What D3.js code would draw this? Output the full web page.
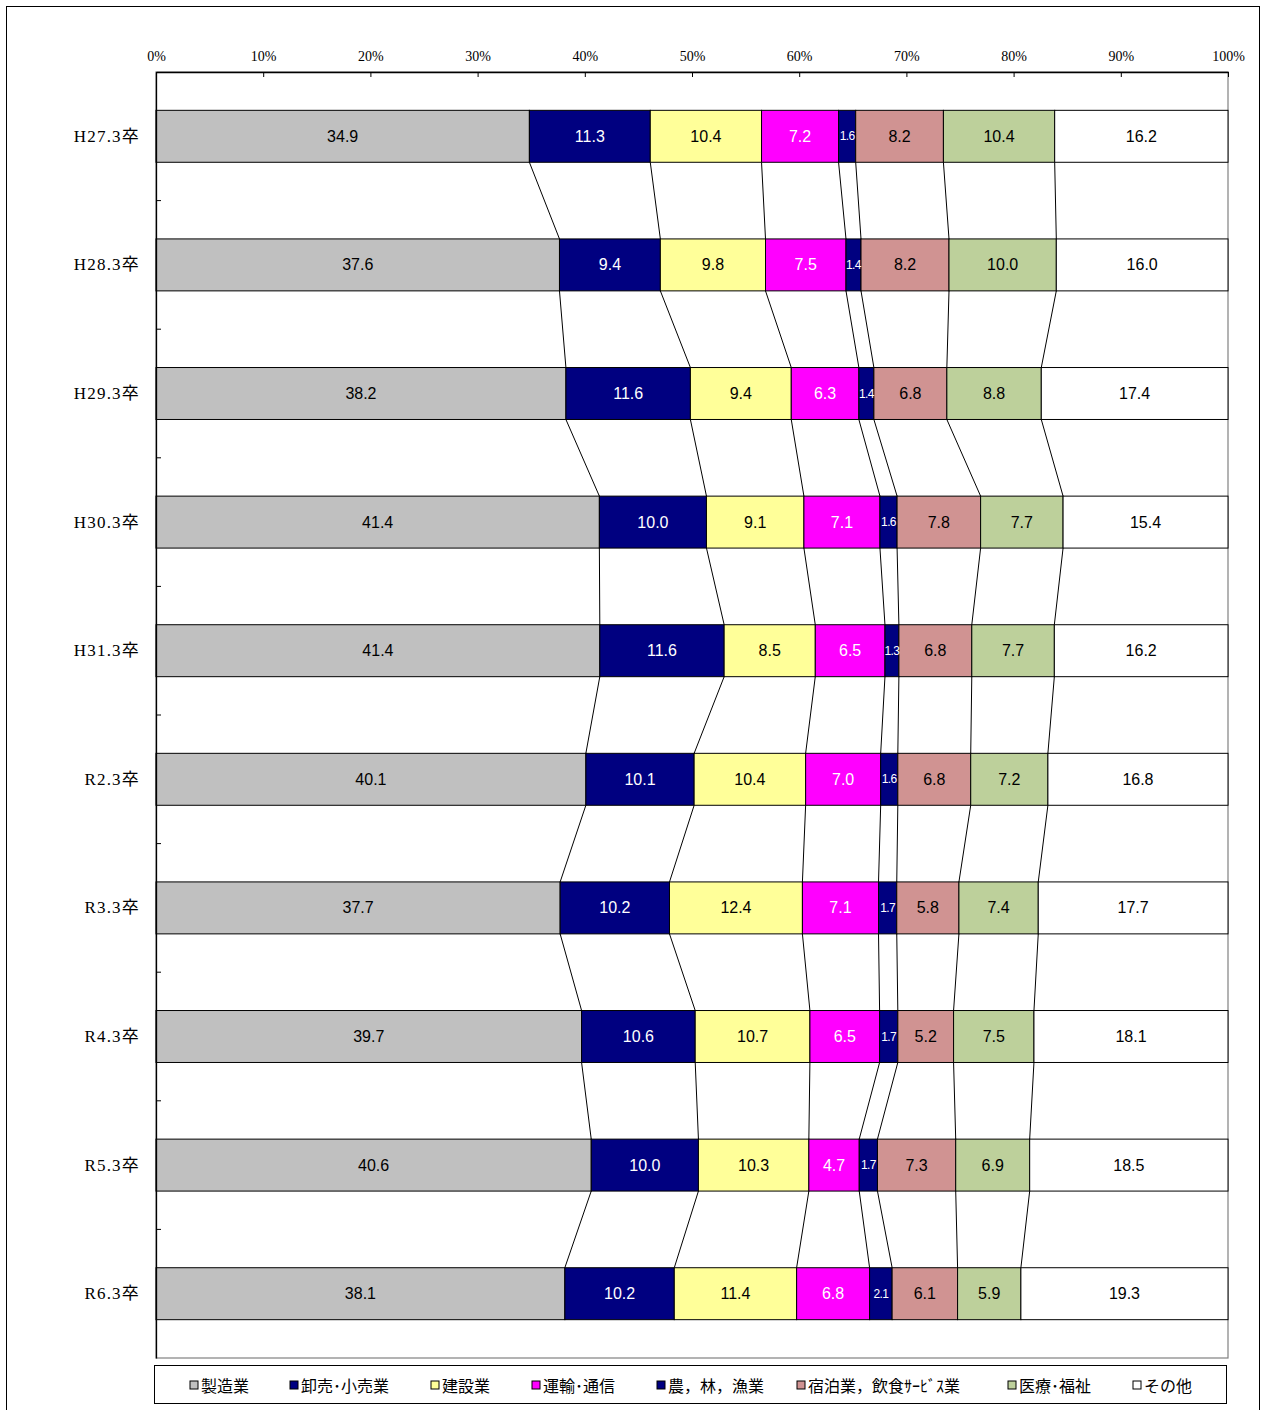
<!DOCTYPE html>
<html><head><meta charset="utf-8">
<script src="https://cdn.jsdelivr.net/npm/d3@7"></script>
<style>body{margin:0;background:#fff}</style>
</head><body><svg id="c" width="1262" height="1410"></svg>
<script>
const categories = ["H27.3卒","H28.3卒","H29.3卒","H30.3卒","H31.3卒","R2.3卒","R3.3卒","R4.3卒","R5.3卒","R6.3卒"];
const seriesNames = ["製造業","卸売･小売業","建設業","運輸･通信","農，林，漁業","宿泊業，飲食ｻｰﾋﾞｽ業","医療･福祉","その他"];
const seriesColors = ["#C0C0C0","#000080","#FFFF99","#FF00FF","#000080","#D09392","#BDD09B","#FFFFFF"];
const labelColors = ["#000","#fff","#000","#fff","#fff","#000","#000","#000"];
const s_manufacturing = [34.9,37.6,38.2,41.4,41.4,40.1,37.7,39.7,40.6,38.1];
const s_wholesale     = [11.3,9.4,11.6,10.0,11.6,10.1,10.2,10.6,10.0,10.2];
const s_construction  = [10.4,9.8,9.4,9.1,8.5,10.4,12.4,10.7,10.3,11.4];
const s_transport     = [7.2,7.5,6.3,7.1,6.5,7.0,7.1,6.5,4.7,6.8];
const s_agriculture   = [1.6,1.4,1.4,1.6,1.3,1.6,1.7,1.7,1.7,2.1];
const s_hospitality   = [8.2,8.2,6.8,7.8,6.8,6.8,5.8,5.2,7.3,6.1];
const s_medical       = [10.4,10.0,8.8,7.7,7.7,7.2,7.4,7.5,6.9,5.9];
const s_other         = [16.2,16.0,17.4,15.4,16.2,16.8,17.7,18.1,18.5,19.3];
const xTicks = [0,10,20,30,40,50,60,70,80,90,100];

const series = [s_manufacturing,s_wholesale,s_construction,s_transport,s_agriculture,s_hospitality,s_medical,s_other];

const svg = d3.select("#c");
const L=156, R=1228, T=72, B=1358;
const x = d3.scaleLinear().domain([0,100]).range([L,R]);
const y = d3.scaleBand().domain(categories).range([T,B]).paddingInner(0.596).paddingOuter(0.298);

// outer border
svg.append("rect").attr("x",6.5).attr("y",6.5).attr("width",1253).attr("height",1410).attr("fill","none").attr("stroke","#000");

// plot area border (right & bottom gray)
svg.append("rect").attr("x",L).attr("y",T).attr("width",R-L).attr("height",B-T).attr("fill","#fff").attr("stroke","#808080").attr("stroke-width",1.2);

// compute stacks (normalize to 100%)
const rows = categories.map((c,i)=>{
  const vals = series.map(s=>s[i]);
  const sum = d3.sum(vals);
  let acc=0;
  const segs = vals.map((v,k)=>{const x0=acc/sum*100; acc+=v; return {k,v,x0,x1:acc/sum*100,cat:c};});
  return {c,segs};
});

// connector lines
const bw = y.bandwidth();
for(let i=0;i<rows.length-1;i++){
  for(let k=0;k<series.length-1;k++){
    svg.append("line")
      .attr("x1",x(rows[i].segs[k].x1)).attr("y1",y(rows[i].c)+bw)
      .attr("x2",x(rows[i+1].segs[k].x1)).attr("y2",y(rows[i+1].c))
      .attr("stroke","#000").attr("stroke-width",1);
  }
}

// bars
rows.forEach(r=>{
  const g = svg.append("g");
  g.selectAll("rect").data(r.segs).join("rect")
    .attr("x",d=>x(d.x0)).attr("y",y(r.c)).attr("width",d=>x(d.x1)-x(d.x0)).attr("height",bw)
    .attr("fill",d=>seriesColors[d.k]).attr("stroke","#000").attr("stroke-width",1);
  g.selectAll("text").data(r.segs).join("text")
    .attr("x",d=>(x(d.x0)+x(d.x1))/2).attr("y",y(r.c)+bw/2)
    .attr("text-anchor","middle").attr("dominant-baseline","central")
    .attr("font-family","'Liberation Sans',Arial,sans-serif")
    .attr("font-size",d=>d.k===4?12:16)
    .attr("letter-spacing",d=>d.k===4?-0.6:0)
    .attr("fill",d=>labelColors[d.k])
    .text(d=>d.v.toFixed(1));
});

// top axis
const xAxis = d3.axisTop(x).tickValues(xTicks).tickSizeOuter(0).tickSizeInner(-5).tickPadding(11).tickFormat(d=>d+"%");
const gx = svg.append("g").attr("transform",`translate(0,${T})`).call(xAxis);
gx.select(".domain").attr("stroke","#000").attr("stroke-width",1.3);
gx.selectAll(".tick line").attr("stroke","#000");
gx.selectAll(".tick text").attr("font-family","'Liberation Serif','DejaVu Serif',serif").attr("font-size",14).attr("fill","#000");

// left axis
const yAxis = d3.axisLeft(y).tickSize(0).tickPadding(16);
const gy = svg.append("g").attr("transform",`translate(${L},0)`).call(yAxis);
gy.select(".domain").attr("stroke","#000").attr("stroke-width",1.3);
gy.selectAll(".tick text").attr("font-family","'Liberation Serif','Noto Sans CJK JP',serif").attr("font-size",17).attr("letter-spacing",1.2).attr("fill","#000");
// band boundary ticks (inside)
const step = y.step();
d3.range(1,categories.length).forEach(i=>{
  svg.append("line").attr("x1",L).attr("x2",L+5).attr("y1",T+i*step).attr("y2",T+i*step).attr("stroke","#000");
});

// legend
svg.append("rect").attr("x",154.5).attr("y",1365.5).attr("width",1072).attr("height",38).attr("fill","#fff").attr("stroke","#000");
const legX = [190,290,431,532,657,797,1008,1133];
const lg = svg.append("g").selectAll("g").data(seriesNames).join("g").attr("transform",(d,i)=>`translate(${legX[i]},1385)`);
lg.append("rect").attr("x",0).attr("y",-4).attr("width",8).attr("height",8).attr("fill",(d,i)=>seriesColors[i]).attr("stroke","#000");
lg.append("text").attr("x",11).attr("y",0).attr("dominant-baseline","central")
  .attr("font-family","'Noto Sans CJK JP',sans-serif").attr("font-size",16).attr("fill","#000").text(d=>d);
</script></body></html>
